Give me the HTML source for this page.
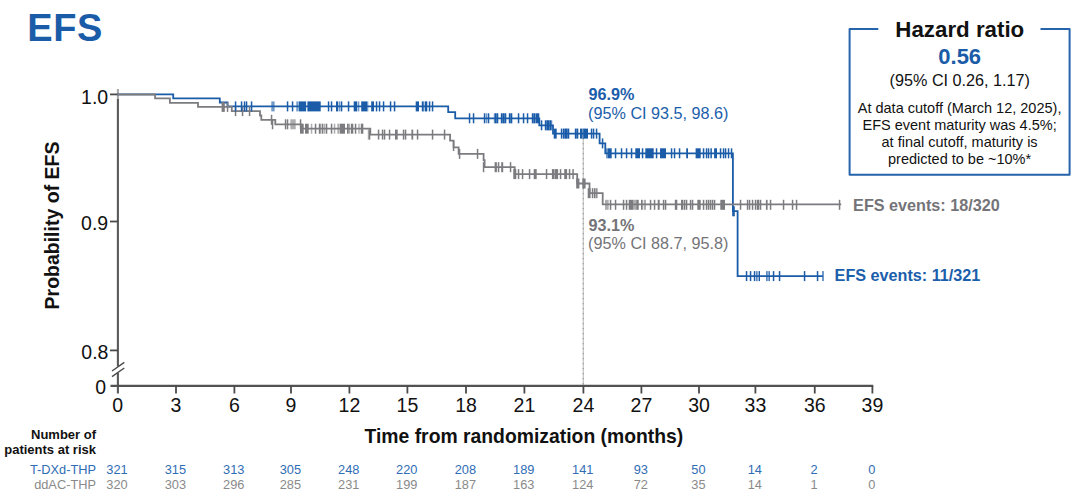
<!DOCTYPE html>
<html><head><meta charset="utf-8"><title>EFS</title>
<style>
html,body{margin:0;padding:0;background:#fff;}
body{width:1080px;height:498px;overflow:hidden;position:relative;}
svg{position:absolute;left:0;top:0;display:block;}
</style></head><body>
<svg width="1080" height="498" viewBox="0 0 1080 498">
<line x1="583.3" y1="138" x2="583.3" y2="386" stroke="#cacaca" stroke-width="1.4"/>
<line x1="583.3" y1="138" x2="583.3" y2="386" stroke="#a4a4a4" stroke-width="1.4" stroke-dasharray="1.2 3.8"/>
<g stroke="#4a4a4a" stroke-width="1.8" fill="none">
<line x1="117.9" y1="98.5" x2="117.9" y2="366.5" stroke="#5a5a5a" stroke-width="2.1"/>
<line x1="117.9" y1="89" x2="117.9" y2="98.5" stroke="#a8a8a8" stroke-width="2.1"/>
<line x1="117.9" y1="373" x2="117.9" y2="393.5" stroke="#5a5a5a" stroke-width="2.1"/>
<line x1="110.5" y1="385.9" x2="873.3" y2="385.9" stroke="#525252" stroke-width="2.1"/>
<line x1="110" y1="94.4" x2="118" y2="94.4"/>
<line x1="110" y1="221.5" x2="118" y2="221.5"/>
<line x1="110" y1="350.4" x2="118" y2="350.4"/>
<line x1="176.00" y1="386" x2="176.00" y2="393.5"/>
<line x1="234.40" y1="386" x2="234.40" y2="393.5"/>
<line x1="291.00" y1="386" x2="291.00" y2="393.5"/>
<line x1="349.40" y1="386" x2="349.40" y2="393.5"/>
<line x1="407.40" y1="386" x2="407.40" y2="393.5"/>
<line x1="466.00" y1="386" x2="466.00" y2="393.5"/>
<line x1="524.40" y1="386" x2="524.40" y2="393.5"/>
<line x1="583.40" y1="386" x2="583.40" y2="393.5"/>
<line x1="641.40" y1="386" x2="641.40" y2="393.5"/>
<line x1="699.00" y1="386" x2="699.00" y2="393.5"/>
<line x1="755.40" y1="386" x2="755.40" y2="393.5"/>
<line x1="814.75" y1="386" x2="814.75" y2="393.5"/>
<line x1="872.40" y1="386" x2="872.40" y2="393.5"/>
</g>
<g stroke="#4a4a4a" stroke-width="1.4"><line x1="112" y1="371" x2="124.3" y2="362.4"/><line x1="112" y1="376.6" x2="124.3" y2="368"/></g>
<path d="M117.0 94.4 H173.2 V98.3 H219.8 V102.5 H227.5 V106.4 H448.2 V112.1 H455.2 V118.3 H539.3 V125.3 H553.0 V133.6 H599.6 V143.4 H605.3 V153.3 H732.9 V211.1 H737.6 V276.1 H822.9" fill="none" stroke="#1a5ca8" stroke-width="1.8" stroke-linejoin="miter" stroke-linecap="butt"/>
<path d="M117.0 94.5 H155.1 V98.4 H169.9 V102.8 H198.0 V106.9 H231.8 V111.1 H260.0 V115.5 H261.3 V119.8 H275.3 V124.3 H301.0 V128.7 H370.3 V134.6 H450.1 V140.6 H453.6 V147.3 H458.6 V153.9 H483.6 V160.2 H484.6 V167.2 H514.7 V174.1 H577.2 V183.5 H589.5 V193.2 H602.7 V204.3 H841.2" fill="none" stroke="#7c7c80" stroke-width="1.8" stroke-linejoin="miter" stroke-linecap="butt"/>
<g fill="#7c7c80"><rect x="221.6" y="101.9" width="3.2" height="10.0"/><rect x="226.8" y="101.9" width="1.5" height="10.0"/><rect x="234.8" y="106.1" width="1.5" height="10.0"/><rect x="241.8" y="106.1" width="1.5" height="10.0"/><rect x="248.8" y="106.1" width="1.5" height="10.0"/><rect x="270.8" y="114.8" width="1.5" height="10.0"/><rect x="271.8" y="119.3" width="1.5" height="10.0"/><rect x="284.8" y="119.3" width="1.5" height="10.0"/><rect x="286.8" y="119.3" width="1.5" height="10.0"/><rect x="299.8" y="119.3" width="1.5" height="10.0"/><rect x="290.3" y="119.3" width="5.4" height="10.0" fill-opacity="0.62"/><rect x="300.0" y="123.7" width="3.7" height="10.0"/><rect x="305.0" y="123.7" width="3.7" height="10.0"/><rect x="314.8" y="123.7" width="1.5" height="10.0"/><rect x="318.8" y="123.7" width="1.5" height="10.0"/><rect x="321.8" y="123.7" width="1.5" height="10.0"/><rect x="325.8" y="123.7" width="1.5" height="10.0"/><rect x="330.8" y="123.7" width="1.5" height="10.0"/><rect x="340.0" y="123.7" width="5.0" height="10.0"/><rect x="347.0" y="123.7" width="1.7" height="10.0"/><rect x="351.0" y="123.7" width="2.3" height="10.0"/><rect x="354.8" y="123.7" width="1.5" height="10.0"/><rect x="360.8" y="123.7" width="1.5" height="10.0"/><rect x="361.8" y="123.7" width="1.5" height="10.0"/><rect x="310.8" y="123.7" width="1.5" height="10.0" fill-opacity="0.62"/><rect x="319.8" y="123.7" width="1.5" height="10.0" fill-opacity="0.62"/><rect x="323.8" y="123.7" width="1.5" height="10.0" fill-opacity="0.62"/><rect x="333.8" y="123.7" width="1.5" height="10.0" fill-opacity="0.62"/><rect x="337.3" y="123.7" width="2.4" height="10.0" fill-opacity="0.62"/><rect x="348.8" y="123.7" width="1.5" height="10.0" fill-opacity="0.62"/><rect x="358.3" y="123.7" width="1.4" height="10.0" fill-opacity="0.62"/><rect x="368.8" y="129.6" width="1.5" height="10.0"/><rect x="377.8" y="129.6" width="1.5" height="10.0"/><rect x="381.8" y="129.6" width="1.5" height="10.0"/><rect x="383.8" y="129.6" width="1.5" height="10.0"/><rect x="388.8" y="129.6" width="1.5" height="10.0"/><rect x="395.0" y="129.6" width="2.7" height="10.0"/><rect x="402.8" y="129.6" width="1.5" height="10.0"/><rect x="404.8" y="129.6" width="1.5" height="10.0"/><rect x="411.4" y="129.6" width="1.8" height="10.0"/><rect x="416.8" y="129.6" width="1.5" height="10.0"/><rect x="431.8" y="129.6" width="1.5" height="10.0"/><rect x="443.8" y="129.6" width="1.5" height="10.0"/><rect x="367.8" y="129.6" width="1.5" height="10.0" fill-opacity="0.62"/><rect x="452.8" y="141.0" width="1.5" height="10.0"/><rect x="458.8" y="148.9" width="1.5" height="10.0"/><rect x="476.8" y="148.9" width="1.5" height="10.0"/><rect x="482.8" y="162.2" width="1.5" height="10.0"/><rect x="494.6" y="162.2" width="2.3" height="10.0"/><rect x="497.8" y="162.2" width="1.5" height="10.0"/><rect x="501.2" y="162.2" width="2.0" height="10.0"/><rect x="509.8" y="162.2" width="1.5" height="10.0"/><rect x="513.3" y="169.1" width="3.0" height="10.0"/><rect x="517.8" y="169.1" width="1.5" height="10.0"/><rect x="521.8" y="169.1" width="1.5" height="10.0"/><rect x="528.8" y="169.1" width="1.5" height="10.0"/><rect x="533.7" y="169.1" width="3.0" height="10.0"/><rect x="545.8" y="169.1" width="1.5" height="10.0"/><rect x="551.9" y="169.1" width="2.1" height="10.0"/><rect x="555.0" y="169.1" width="3.1" height="10.0"/><rect x="559.8" y="169.1" width="1.5" height="10.0"/><rect x="564.2" y="169.1" width="2.9" height="10.0"/><rect x="568.8" y="169.1" width="1.5" height="10.0"/><rect x="572.3" y="169.1" width="1.5" height="10.0"/><rect x="554.0" y="169.1" width="1.0" height="10.0" fill-opacity="0.62"/><rect x="576.2" y="178.5" width="3.2" height="10.0"/><rect x="582.3" y="178.5" width="3.3" height="10.0"/><rect x="587.7" y="188.2" width="2.9" height="10.0"/><rect x="591.8" y="188.2" width="1.5" height="10.0"/><rect x="593.9" y="188.2" width="1.3" height="10.0"/><rect x="596.2" y="188.2" width="1.3" height="10.0"/><rect x="595.2" y="188.2" width="1.0" height="10.0" fill-opacity="0.62"/><rect x="609.8" y="199.8" width="1.5" height="10.0"/><rect x="614.8" y="199.8" width="1.5" height="10.0"/><rect x="622.8" y="199.8" width="1.5" height="10.0"/><rect x="625.8" y="199.8" width="1.5" height="10.0"/><rect x="628.7" y="199.8" width="4.6" height="10.0"/><rect x="636.3" y="199.8" width="2.4" height="10.0"/><rect x="641.0" y="199.8" width="1.7" height="10.0"/><rect x="649.8" y="199.8" width="1.5" height="10.0"/><rect x="653.8" y="199.8" width="1.5" height="10.0"/><rect x="657.7" y="199.8" width="2.0" height="10.0"/><rect x="662.8" y="199.8" width="1.5" height="10.0"/><rect x="664.8" y="199.8" width="1.5" height="10.0"/><rect x="674.8" y="199.8" width="1.5" height="10.0"/><rect x="675.8" y="199.8" width="1.5" height="10.0"/><rect x="681.0" y="199.8" width="2.3" height="10.0"/><rect x="683.8" y="199.8" width="1.5" height="10.0"/><rect x="685.8" y="199.8" width="1.5" height="10.0"/><rect x="689.8" y="199.8" width="1.5" height="10.0"/><rect x="691.8" y="199.8" width="1.5" height="10.0"/><rect x="697.3" y="199.8" width="3.4" height="10.0"/><rect x="702.8" y="199.8" width="1.5" height="10.0"/><rect x="705.8" y="199.8" width="1.5" height="10.0"/><rect x="707.8" y="199.8" width="1.5" height="10.0"/><rect x="709.8" y="199.8" width="1.5" height="10.0"/><rect x="711.8" y="199.8" width="1.5" height="10.0"/><rect x="713.8" y="199.8" width="1.5" height="10.0"/><rect x="720.3" y="199.8" width="4.7" height="10.0"/><rect x="739.8" y="199.8" width="1.5" height="10.0"/><rect x="746.8" y="199.8" width="1.5" height="10.0"/><rect x="748.8" y="199.8" width="1.5" height="10.0"/><rect x="751.8" y="199.8" width="1.5" height="10.0"/><rect x="754.8" y="199.8" width="1.5" height="10.0"/><rect x="756.8" y="199.8" width="1.5" height="10.0"/><rect x="757.8" y="199.8" width="1.5" height="10.0"/><rect x="759.8" y="199.8" width="1.5" height="10.0"/><rect x="765.9" y="199.8" width="1.7" height="10.0"/><rect x="769.8" y="199.8" width="1.5" height="10.0"/><rect x="782.8" y="199.8" width="1.5" height="10.0"/><rect x="791.8" y="199.8" width="1.5" height="10.0"/><rect x="795.8" y="199.8" width="1.5" height="10.0"/><rect x="838.8" y="199.8" width="1.5" height="10.0"/><rect x="605.0" y="199.8" width="3.7" height="10.0" fill-opacity="0.62"/><rect x="633.3" y="199.8" width="3.0" height="10.0" fill-opacity="0.62"/><rect x="643.7" y="199.8" width="2.3" height="10.0" fill-opacity="0.62"/></g>
<g fill="#1a5ca8"><rect x="234.8" y="101.4" width="1.5" height="10.0"/><rect x="240.8" y="101.4" width="1.5" height="10.0"/><rect x="243.8" y="101.4" width="1.5" height="10.0"/><rect x="245.8" y="101.4" width="1.5" height="10.0"/><rect x="250.8" y="101.4" width="1.5" height="10.0"/><rect x="271.3" y="101.4" width="3.3" height="10.0" fill-opacity="0.62"/><rect x="286.8" y="101.4" width="1.5" height="10.0"/><rect x="291.8" y="101.4" width="1.5" height="10.0"/><rect x="296.3" y="101.4" width="2.4" height="10.0" fill-opacity="0.62"/><rect x="299.0" y="101.4" width="7.0" height="10.0"/><rect x="308.0" y="101.4" width="12.7" height="10.0"/><rect x="306.8" y="101.4" width="1.5" height="10.0" fill-opacity="0.62"/><rect x="327.8" y="101.4" width="1.5" height="10.0"/><rect x="330.8" y="101.4" width="1.5" height="10.0"/><rect x="336.0" y="101.4" width="2.2" height="10.0"/><rect x="340.8" y="101.4" width="1.5" height="10.0"/><rect x="347.8" y="101.4" width="1.5" height="10.0"/><rect x="353.7" y="101.4" width="3.5" height="10.0"/><rect x="361.2" y="101.4" width="5.8" height="10.0"/><rect x="371.2" y="101.4" width="2.8" height="10.0"/><rect x="375.8" y="101.4" width="1.5" height="10.0"/><rect x="378.8" y="101.4" width="1.5" height="10.0"/><rect x="382.8" y="101.4" width="1.5" height="10.0"/><rect x="389.8" y="101.4" width="1.5" height="10.0"/><rect x="393.8" y="101.4" width="1.5" height="10.0"/><rect x="415.7" y="101.4" width="3.3" height="10.0"/><rect x="421.8" y="101.4" width="1.5" height="10.0"/><rect x="424.8" y="101.4" width="1.5" height="10.0"/><rect x="425.8" y="101.4" width="1.5" height="10.0"/><rect x="428.8" y="101.4" width="1.5" height="10.0"/><rect x="431.8" y="101.4" width="1.5" height="10.0"/><rect x="338.8" y="101.4" width="1.5" height="10.0" fill-opacity="0.62"/><rect x="357.8" y="101.4" width="1.5" height="10.0" fill-opacity="0.62"/><rect x="366.8" y="101.4" width="1.5" height="10.0" fill-opacity="0.62"/><rect x="422.8" y="101.4" width="1.5" height="10.0" fill-opacity="0.62"/><rect x="468.8" y="113.3" width="1.5" height="10.0"/><rect x="472.8" y="113.3" width="1.5" height="10.0"/><rect x="483.8" y="113.3" width="1.5" height="10.0"/><rect x="487.8" y="113.3" width="1.5" height="10.0"/><rect x="494.8" y="113.3" width="1.5" height="10.0"/><rect x="496.8" y="113.3" width="1.5" height="10.0"/><rect x="500.8" y="113.3" width="1.5" height="10.0"/><rect x="502.8" y="113.3" width="1.5" height="10.0"/><rect x="504.8" y="113.3" width="1.5" height="10.0"/><rect x="508.8" y="113.3" width="1.5" height="10.0"/><rect x="510.8" y="113.3" width="1.5" height="10.0"/><rect x="517.8" y="113.3" width="1.5" height="10.0"/><rect x="522.8" y="113.3" width="1.5" height="10.0"/><rect x="526.8" y="113.3" width="1.5" height="10.0"/><rect x="531.8" y="113.3" width="1.5" height="10.0"/><rect x="533.8" y="113.3" width="1.5" height="10.0"/><rect x="535.5" y="113.3" width="3.8" height="10.0"/><rect x="485.8" y="113.3" width="1.5" height="10.0" fill-opacity="0.62"/><rect x="493.8" y="113.3" width="1.5" height="10.0" fill-opacity="0.62"/><rect x="495.8" y="113.3" width="1.5" height="10.0" fill-opacity="0.62"/><rect x="501.8" y="113.3" width="1.5" height="10.0" fill-opacity="0.62"/><rect x="503.8" y="113.3" width="1.5" height="10.0" fill-opacity="0.62"/><rect x="509.8" y="113.3" width="1.5" height="10.0" fill-opacity="0.62"/><rect x="532.8" y="113.3" width="1.5" height="10.0" fill-opacity="0.62"/><rect x="540.8" y="120.3" width="1.5" height="10.0"/><rect x="544.8" y="120.3" width="1.5" height="10.0"/><rect x="546.8" y="120.3" width="1.5" height="10.0"/><rect x="547.8" y="120.3" width="1.5" height="10.0"/><rect x="549.8" y="120.3" width="1.5" height="10.0"/><rect x="545.8" y="120.3" width="1.5" height="10.0" fill-opacity="0.62"/><rect x="548.8" y="120.3" width="1.5" height="10.0" fill-opacity="0.62"/><rect x="550.8" y="120.3" width="1.5" height="10.0" fill-opacity="0.62"/><rect x="553.7" y="128.6" width="3.0" height="10.0"/><rect x="560.8" y="128.6" width="1.5" height="10.0"/><rect x="562.8" y="128.6" width="1.5" height="10.0"/><rect x="564.8" y="128.6" width="1.5" height="10.0"/><rect x="565.8" y="128.6" width="1.5" height="10.0"/><rect x="567.8" y="128.6" width="1.5" height="10.0"/><rect x="574.8" y="128.6" width="1.5" height="10.0"/><rect x="576.8" y="128.6" width="1.5" height="10.0"/><rect x="580.0" y="128.6" width="2.6" height="10.0"/><rect x="583.4" y="128.6" width="4.6" height="10.0"/><rect x="590.8" y="128.6" width="1.5" height="10.0"/><rect x="592.8" y="128.6" width="1.5" height="10.0"/><rect x="595.8" y="128.6" width="1.5" height="10.0"/><rect x="563.8" y="128.6" width="1.5" height="10.0" fill-opacity="0.62"/><rect x="566.8" y="128.6" width="1.5" height="10.0" fill-opacity="0.62"/><rect x="575.8" y="128.6" width="1.5" height="10.0" fill-opacity="0.62"/><rect x="582.8" y="128.6" width="1.5" height="10.0" fill-opacity="0.62"/><rect x="601.8" y="138.4" width="1.5" height="10.0"/><rect x="607.5" y="148.3" width="4.2" height="10.0"/><rect x="614.8" y="148.3" width="1.5" height="10.0"/><rect x="620.8" y="148.3" width="1.5" height="10.0"/><rect x="625.8" y="148.3" width="1.5" height="10.0"/><rect x="630.8" y="148.3" width="1.5" height="10.0"/><rect x="635.3" y="148.3" width="4.7" height="10.0"/><rect x="641.8" y="148.3" width="1.5" height="10.0"/><rect x="645.3" y="148.3" width="8.4" height="10.0"/><rect x="655.8" y="148.3" width="1.5" height="10.0"/><rect x="660.0" y="148.3" width="6.0" height="10.0"/><rect x="670.8" y="148.3" width="1.5" height="10.0"/><rect x="673.8" y="148.3" width="1.5" height="10.0"/><rect x="678.8" y="148.3" width="1.5" height="10.0"/><rect x="686.2" y="148.3" width="1.8" height="10.0"/><rect x="695.6" y="148.3" width="5.1" height="10.0"/><rect x="702.8" y="148.3" width="1.5" height="10.0"/><rect x="705.8" y="148.3" width="1.5" height="10.0"/><rect x="707.8" y="148.3" width="1.5" height="10.0"/><rect x="710.4" y="148.3" width="1.5" height="10.0"/><rect x="714.1" y="148.3" width="2.9" height="10.0"/><rect x="719.8" y="148.3" width="1.5" height="10.0"/><rect x="722.8" y="148.3" width="1.5" height="10.0"/><rect x="724.8" y="148.3" width="1.5" height="10.0"/><rect x="727.8" y="148.3" width="1.5" height="10.0"/><rect x="730.8" y="148.3" width="1.5" height="10.0"/><rect x="606.0" y="148.3" width="1.5" height="10.0" fill-opacity="0.62"/><rect x="732.2" y="206.3" width="2.6" height="10.0"/><rect x="745.8" y="271.1" width="1.5" height="10.0"/><rect x="749.8" y="271.1" width="1.5" height="10.0"/><rect x="753.8" y="271.1" width="1.5" height="10.0"/><rect x="756.3" y="271.1" width="1.1" height="10.0"/><rect x="759.0" y="271.1" width="1.0" height="10.0"/><rect x="766.3" y="271.1" width="1.1" height="10.0"/><rect x="768.8" y="271.1" width="1.0" height="10.0"/><rect x="772.8" y="271.1" width="1.5" height="10.0"/><rect x="778.8" y="271.1" width="1.5" height="10.0"/><rect x="803.8" y="271.1" width="1.5" height="10.0"/><rect x="816.8" y="271.1" width="1.5" height="10.0"/><rect x="757.8" y="271.1" width="0.9" height="10.0" fill-opacity="0.62"/><rect x="767.6" y="271.1" width="1.0" height="10.0" fill-opacity="0.62"/><rect x="822.0" y="271.1" width="2.0" height="10.0" fill-opacity="0.62"/></g>
<g font-family="Liberation Sans, Arial, sans-serif" font-size="19.5" fill="#111111" text-anchor="end">
<text x="108.2" y="103.5">1.0</text>
<text x="108.2" y="229.9">0.9</text>
<text x="108.4" y="359.4">0.8</text>
<text x="106.1" y="393.7">0</text>
</g>
<g font-family="Liberation Sans, Arial, sans-serif" font-size="19.5" fill="#111111" text-anchor="middle">
<text x="117.60" y="412">0</text>
<text x="176.00" y="412">3</text>
<text x="234.40" y="412">6</text>
<text x="291.00" y="412">9</text>
<text x="349.40" y="412">12</text>
<text x="407.40" y="412">15</text>
<text x="466.00" y="412">18</text>
<text x="524.40" y="412">21</text>
<text x="583.40" y="412">24</text>
<text x="641.40" y="412">27</text>
<text x="699.00" y="412">30</text>
<text x="755.40" y="412">33</text>
<text x="814.75" y="412">36</text>
<text x="872.40" y="412">39</text>
</g>
<text font-family="Liberation Sans, Arial, sans-serif" font-size="19.5" font-weight="bold" fill="#111111" text-anchor="middle" transform="translate(58.7 225.5) rotate(-90)">Probability of EFS</text>
<text font-family="Liberation Sans, Arial, sans-serif" font-size="19.35" font-weight="bold" fill="#111111" text-anchor="middle" x="523.9" y="442.7">Time from randomization (months)</text>
<text font-family="Liberation Sans, Arial, sans-serif" font-size="38" font-weight="bold" fill="#1a5ca8" x="27.2" y="41.4" letter-spacing="0.6">EFS</text>
<g font-family="Liberation Sans, Arial, sans-serif" font-size="16.2">
<text x="588.4" y="100.3" font-weight="bold" fill="#1b5eab">96.9%</text>
<text x="588.1" y="119" fill="#1b5eab">(95% CI 93.5, 98.6)</text>
<text x="588.4" y="230.7" font-weight="bold" fill="#747478">93.1%</text>
<text x="588.1" y="249.1" fill="#747478">(95% CI 88.7, 95.8)</text>
<text x="853.1" y="211.2" font-weight="bold" fill="#747478">EFS events: 18/320</text>
<text x="834.6" y="281.2" font-weight="bold" fill="#1b5eab">EFS events: 11/321</text>
</g>
<path d="M878.3 28.9 H849.6 V174.8 H1069.6 V28.9 H1040.5" fill="none" stroke="#2563aa" stroke-width="2.0" stroke-linejoin="round"/>
<g font-family="Liberation Sans, Arial, sans-serif" text-anchor="middle">
<text x="959.8" y="37.1" font-size="22.3" font-weight="bold" fill="#111111">Hazard ratio</text>
<text x="959.7" y="64" font-size="22" font-weight="bold" fill="#1a5ca8">0.56</text>
<text x="959.8" y="86.0" font-size="16.2" fill="#111111">(95% CI 0.26, 1.17)</text>
<text x="959.6" y="112.8" font-size="14.5" fill="#111111">At data cutoff (March 12, 2025),</text>
<text x="959.6" y="130.0" font-size="14.5" fill="#111111">EFS event maturity was 4.5%;</text>
<text x="959.6" y="147.1" font-size="14.5" fill="#111111">at final cutoff, maturity is</text>
<text x="959.6" y="164.2" font-size="14.5" fill="#111111">predicted to be ~10%*</text>
</g>
<g font-family="Liberation Sans, Arial, sans-serif" text-anchor="end">
<text x="96" y="438.5" font-size="13" font-weight="bold" fill="#111111">Number of</text>
<text x="96" y="454.3" font-size="13" font-weight="bold" fill="#111111">patients at risk</text>
<text x="96" y="473.5" font-size="12.8" fill="#2f6db4">T-DXd-THP</text>
<text x="96" y="488.7" font-size="12.8" fill="#8a8a8a">ddAC-THP</text>
</g>
<g font-family="Liberation Sans, Arial, sans-serif" text-anchor="middle" font-size="12.8">
<text x="117.00" y="473.5" fill="#2f6db4">321</text>
<text x="117.00" y="488.7" fill="#8a8a8a">320</text>
<text x="175.40" y="473.5" fill="#2f6db4">315</text>
<text x="175.40" y="488.7" fill="#8a8a8a">303</text>
<text x="233.80" y="473.5" fill="#2f6db4">313</text>
<text x="233.80" y="488.7" fill="#8a8a8a">296</text>
<text x="290.40" y="473.5" fill="#2f6db4">305</text>
<text x="290.40" y="488.7" fill="#8a8a8a">285</text>
<text x="348.80" y="473.5" fill="#2f6db4">248</text>
<text x="348.80" y="488.7" fill="#8a8a8a">231</text>
<text x="406.80" y="473.5" fill="#2f6db4">220</text>
<text x="406.80" y="488.7" fill="#8a8a8a">199</text>
<text x="465.40" y="473.5" fill="#2f6db4">208</text>
<text x="465.40" y="488.7" fill="#8a8a8a">187</text>
<text x="523.80" y="473.5" fill="#2f6db4">189</text>
<text x="523.80" y="488.7" fill="#8a8a8a">163</text>
<text x="582.80" y="473.5" fill="#2f6db4">141</text>
<text x="582.80" y="488.7" fill="#8a8a8a">124</text>
<text x="640.80" y="473.5" fill="#2f6db4">93</text>
<text x="640.80" y="488.7" fill="#8a8a8a">72</text>
<text x="698.40" y="473.5" fill="#2f6db4">50</text>
<text x="698.40" y="488.7" fill="#8a8a8a">35</text>
<text x="754.80" y="473.5" fill="#2f6db4">14</text>
<text x="754.80" y="488.7" fill="#8a8a8a">14</text>
<text x="814.15" y="473.5" fill="#2f6db4">2</text>
<text x="814.15" y="488.7" fill="#8a8a8a">1</text>
<text x="871.80" y="473.5" fill="#2f6db4">0</text>
<text x="871.80" y="488.7" fill="#8a8a8a">0</text>
</g>
</svg>
</body></html>
